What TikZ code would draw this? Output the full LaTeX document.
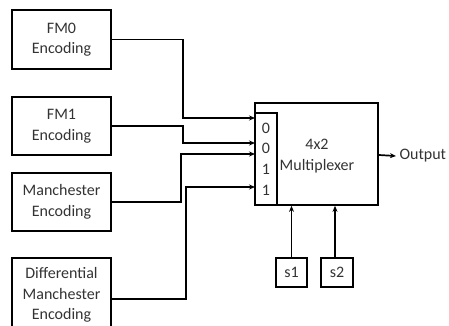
\documentclass[tikz,border=0pt]{standalone}
\usepackage{fontspec}
\setmainfont{Carlito}
\usetikzlibrary{arrows.meta}

\tikzset{
  blk/.style={draw=black, line width=1.7pt, text=black!80, align=center, inner sep=0pt},
  wire/.style={line width=1.7pt},
  arr/.style={wire, -{Stealth[length=6pt,width=5pt]}}
}

\begin{document}
\begin{tikzpicture}[x=1pt, y=-1pt, font=\fontsize{16}{20.5}\selectfont]
    \clip (0,0) rectangle (449,326);
    % encoders on the left
    \node[blk, minimum width=99pt, minimum height=59pt] (fm0) at (61.5,39.5) {FM0\\Encoding};
    \node[blk, minimum width=99pt, minimum height=58pt] (fm1) at (61.5,126) {FM1\\Encoding};
    \node[blk, minimum width=99pt, minimum height=58pt] (man) at (61.5,202) {Manchester\\Encoding};
    \node[blk, minimum width=99pt, minimum height=74pt] (diff) at (61.5,295) {Differential\\Manchester\\Encoding};

    % the multiplexer and its input column
    \node[blk, minimum width=123pt, minimum height=102pt] (mux) at (316.5,154) {};
    \node[text=black!80, align=center] (muxlbl) at (317,156) {4x2\\Multiplexer};
    \node[blk, minimum width=22pt, minimum height=92pt, font=\fontsize{16}{20.7}\selectfont] (sel) at (266,159) {0\\0\\1\\1};

    % select lines
    \node[blk, minimum width=31pt, minimum height=29pt] (s1) at (291.5,272.5) {s1};
    \node[blk, minimum width=32pt, minimum height=29pt] (s2) at (337,272.5) {s2};
    \node[text=black!80, anchor=west] (out) at (396,156) {Output};

    \coordinate (in1) at (255,118);
    \coordinate (in2) at (255,143);
    \coordinate (in3) at (255,154);
    \coordinate (in4) at (255,187);

    % wiring
    \draw[arr] (fm0.east) -| (183,118) -- (in1);
    \draw[arr] (fm1.east) -| (183,143) -- (in2);
    \draw[arr] (man.east) -| (181,154) -- (in3);
    \draw[arr] ([yshift=-4pt]diff.east) -| (186,187) -- (in4);
    \draw[arr] (mux.east |- 0,155) -- (out.west);
    \draw[arr] (s1.north) -- (s1.north |- mux.south);
    \draw[arr] ([xshift=-2pt]s2.north) -- ([xshift=-2pt]s2.north |- mux.south);
\end{tikzpicture}
\end{document}
